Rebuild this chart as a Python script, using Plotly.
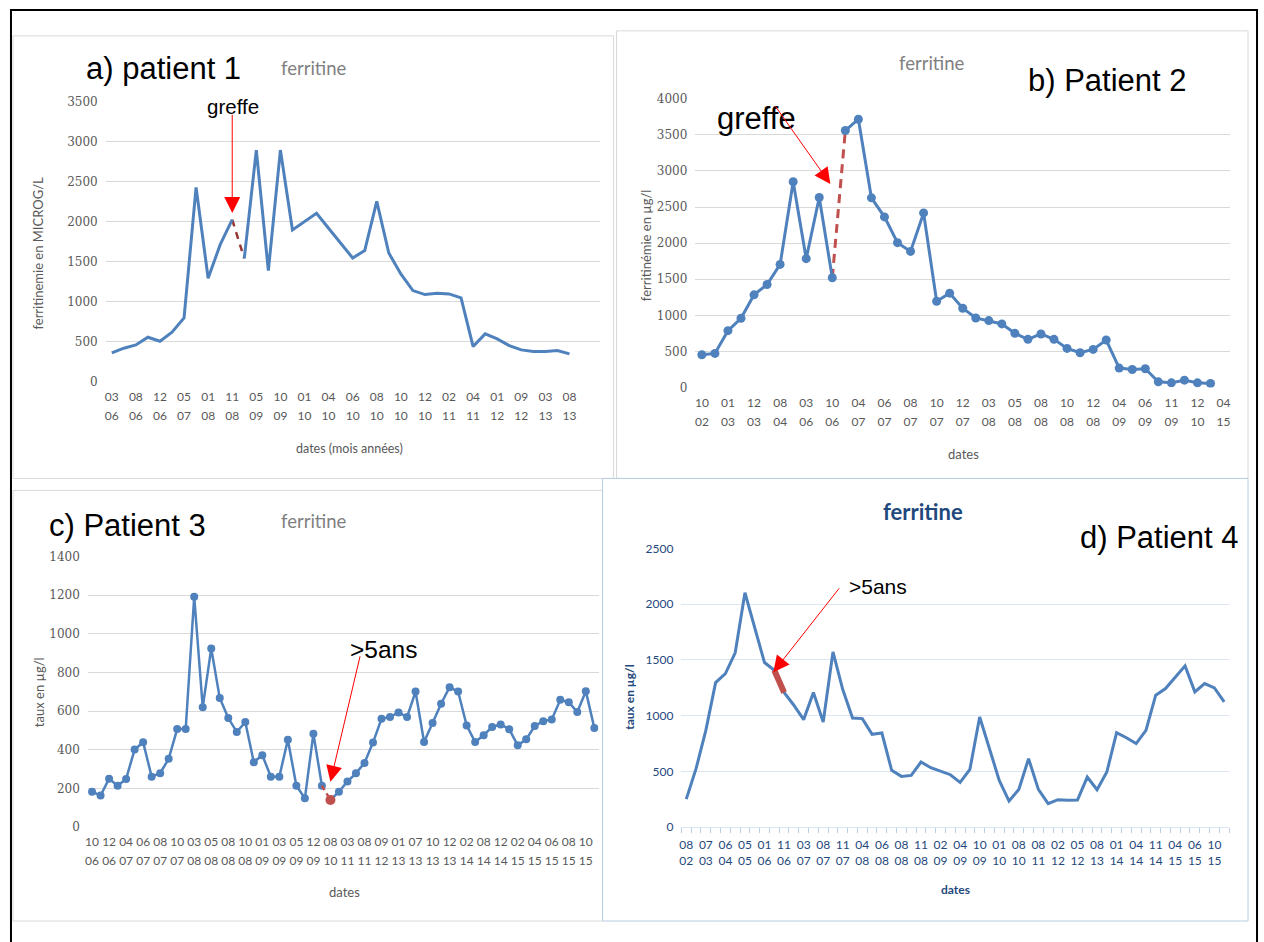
import plotly.graph_objects as go

W, H = 1264, 942

# ---------------- data ----------------
# Panel a) patient 1
a_months = ["03","08","12","05","01","11","05","10","01","04","06","08","10","12","02","04","01","09","03","08"]
a_years  = ["06","06","06","07","08","08","09","09","10","10","10","10","10","10","11","11","12","12","13","13"]
a_values = [358,417,458,554,504,617,796,2429,1292,1712,2025,1540,2896,1388,2896,1896,2004,2104,1917,1730,
            1546,1638,2254,1608,1346,1138,1088,1104,1096,1046,438,596,533,450,396,375,375,388,346]
a_graft = 10

# Panel b) patient 2
b_months = ["10","01","12","08","03","10","04","06","08","10","12","03","05","08","10","12","04","06","11","12","04"]
b_years  = ["02","03","03","04","06","06","07","07","07","07","07","08","08","08","08","08","09","09","09","10","15"]
b_values = [454,473,788,959,1284,1427,1706,2850,1785,2632,1520,3560,3717,2628,2364,2007,1886,2419,1196,1307,
            1099,964,927,881,751,667,742,667,542,482,528,658,269,250,260,79,65,102,65,56]
b_graft = 10

# Panel c) patient 3
c_months = ["10","12","04","06","08","10","03","05","08","10","01","03","05","12","08","03","08","09","01","07",
            "10","12","02","08","12","02","04","06","08","10"]
c_years  = ["06","06","07","07","07","07","08","08","08","08","09","09","09","09","10","11","11","12","13","13",
            "13","13","14","14","14","15","15","15","15","15"]
c_values = [183,163,250,214,249,401,439,261,279,353,507,507,1191,620,924,668,564,492,543,336,
            372,261,261,452,214,149,483,214,140,183,236,278,332,437,560,569,593,569,701,440,
            538,638,723,701,526,440,475,518,531,506,423,454,523,548,557,658,646,595,703,513]
c_mark = 28

# Panel d) patient 4
d_months = ["08","07","06","05","01","11","03","08","11","04","06","08","11","02","04","10","01","08","08","02",
            "05","08","01","04","11","04","06","10"]
d_years  = ["02","03","04","05","06","06","07","07","07","08","08","08","08","09","09","09","10","10","11","12",
            "12","13","14","14","14","15","15","15"]
d_values = [251,524,868,1296,1377,1563,2102,1796,1476,1407,1207,1093,964,1207,943,1572,1234,979,973,832,
            844,509,455,464,584,533,500,470,401,518,988,704,419,234,338,614,338,210,246,240,
            243,449,335,494,847,802,749,868,1183,1243,1341,1446,1213,1287,1249,1123]
d_mark = 9

# ---------------- style ----------------
BLUE = "#4f81bd"
RED = "#c0504d"
GRAY_TXT = "#595959"
GRID = "#d9d9d9"
DBLUE = "#1f497d"
DGRID = "#dce6f2"
TICKFONT = "Lato"
NUMFONT = "DejaVu Serif"
BIG = "Liberation Sans"
VS = 0.985  # vertical layout calibration


def px(x):
    return (x - 2) / W


def py(y):
    return 1 - (8 + (y - 15) / VS) / H


fig = go.Figure()


def split_series(values, cut):
    xs = list(range(cut + 1)) + [None] + list(range(cut + 1, len(values)))
    ys = list(values[:cut + 1]) + [None] + list(values[cut + 1:])
    return xs, ys


# a
xs, ys = split_series(a_values, a_graft)
fig.add_trace(go.Scatter(x=[a_graft, a_graft + 1], y=[a_values[a_graft], a_values[a_graft + 1]],
                         mode="lines", line=dict(color="#953735", width=2.5, dash="7px,6px"),
                         xaxis="x", yaxis="y"))
fig.add_trace(go.Scatter(x=xs, y=ys, mode="lines", line=dict(color=BLUE, width=3),
                         xaxis="x", yaxis="y"))
# b
xs, ys = split_series(b_values, b_graft)
fig.add_trace(go.Scatter(x=[b_graft, b_graft + 1], y=[b_values[b_graft], b_values[b_graft + 1]],
                         mode="lines", line=dict(color=RED, width=3, dash="9px,6px"),
                         xaxis="x2", yaxis="y2"))
fig.add_trace(go.Scatter(x=xs, y=ys, mode="lines+markers", line=dict(color=BLUE, width=3),
                         marker=dict(color=BLUE, size=9), xaxis="x2", yaxis="y2"))
# c
xs, ys = split_series(c_values, c_mark - 1)
fig.add_trace(go.Scatter(x=xs, y=ys, mode="lines+markers", line=dict(color=BLUE, width=2.5),
                         marker=dict(color=BLUE, size=8), xaxis="x3", yaxis="y3"))
fig.add_trace(go.Scatter(x=[c_mark - 1, c_mark], y=[c_values[c_mark - 1], c_values[c_mark]],
                         mode="lines", line=dict(color=RED, width=2.5, dash="5px,4px"),
                         xaxis="x3", yaxis="y3"))
fig.add_trace(go.Scatter(x=[c_mark], y=[c_values[c_mark]], mode="markers",
                         marker=dict(color=RED, size=10), xaxis="x3", yaxis="y3"))
# d
fig.add_trace(go.Scatter(x=list(range(len(d_values))), y=d_values, mode="lines",
                         line=dict(color=BLUE, width=3), xaxis="x4", yaxis="y4"))
fig.add_trace(go.Scatter(x=[d_mark, d_mark + 1], y=[d_values[d_mark], d_values[d_mark + 1]],
                         mode="lines", line=dict(color=RED, width=6), xaxis="x4", yaxis="y4"))

# dummy traces to register overlay (year-row) axes
for xa, ya in (("x5", "y"), ("x6", "y2"), ("x7", "y3"), ("x8", "y4")):
    fig.add_trace(go.Scatter(x=[], y=[], xaxis=xa, yaxis=ya, hoverinfo="skip"))

fig.update_traces(showlegend=False)

# ---------------- axes ----------------
panels = {
    "a": ((105, 600), (381, 101), 41, 3500, 500, a_months, a_years),
    "b": ((696, 1232), (387, 98), 41, 4000, 500, b_months, b_years),
    "c": ((87, 599), (827, 556), 60, 1400, 200, c_months, c_years),
    "d": ((682, 1231), (827, 548), 56, 2500, 500, d_months, d_years),
}
suffix = {"a": "", "b": "2", "c": "3", "d": "4"}
over = {"a": "5", "b": "6", "c": "7", "d": "8"}

layout_axes = {}
for key, (xd, yd, ncat, ymax, dt, months, years) in panels.items():
    s = suffix[key]
    isd = key == "d"
    tcol = DBLUE if isd else GRAY_TXT
    gcol = DGRID if isd else GRID
    tickvals = [2 * i for i in range(len(months))]
    xr = [-0.5, ncat - 0.5]
    xaxis = dict(domain=[px(xd[0]), px(xd[1])], range=xr, anchor="y" + s,
                 tickmode="array", tickvals=tickvals, ticktext=months,
                 showgrid=False, zeroline=False, showline=isd, linecolor=DGRID, linewidth=1,
                 ticks="", tickfont=dict(family=TICKFONT, size=12, color=tcol),
                 ticklabelstandoff=6)
    if isd:
        xaxis["minor"] = dict(tickmode="linear", tick0=-0.5, dtick=1, ticks="outside",
                              ticklen=5, tickcolor="#b9cde5", tickwidth=1, showgrid=False)
    layout_axes["xaxis" + s] = xaxis
    layout_axes["yaxis" + s] = dict(domain=[py(yd[0]), py(yd[1])], range=[0, ymax], anchor="x" + s,
                                    tickmode="linear", tick0=0, dtick=dt,
                                    showgrid=True, gridcolor=gcol, gridwidth=1,
                                    zeroline=False, showline=False, ticks="",
                                    tickfont=dict(family=TICKFONT if isd else NUMFONT, size=12, color=tcol),
                                    ticklabelstandoff=7)
    o = over[key]
    layout_axes["xaxis" + o] = dict(overlaying="x" + s, anchor="y" + s, range=xr,
                                    tickmode="array", tickvals=tickvals, ticktext=years,
                                    showgrid=False, zeroline=False, showline=False, ticks="",
                                    tickfont=dict(family=TICKFONT, size=12, color=tcol),
                                    ticklabelstandoff=25)

fig.update_layout(**layout_axes)

# ---------------- annotations ----------------
ann = []


def text(x, y, t, size, color="black", family=BIG, bold=False, angle=0):
    ann.append(dict(x=px(x), y=py(y), xref="paper", yref="paper", text=("<b>%s</b>" % t) if bold else t,
                    showarrow=False, xanchor="center", yanchor="middle", textangle=angle,
                    font=dict(family=family, size=size, color=color)))


# titles
text(163, 68, "a) patient 1", 31)
text(314, 67, "ferritine", 18.5, "#808080", TICKFONT)
text(933, 62, "ferritine", 18.5, "#808080", TICKFONT)
text(1109, 80, "b) Patient 2", 31)
text(127, 525, "c) Patient 3", 31)
text(314, 521, "ferritine", 18.5, "#808080", TICKFONT)
text(924, 511, "ferritine", 22, DBLUE, TICKFONT, bold=True)
text(1161, 537, "d) Patient 4", 31)
# callout texts
text(233, 106, "greffe", 20.5)
text(757, 118, "greffe", 31)
text(383, 649, ">5ans", 24.5)
text(879, 586, ">5ans", 21)
# axis titles
text(37, 252, "ferritinemie en MICROG/L", 13, GRAY_TXT, TICKFONT, angle=-90)
text(646, 244, "ferritinémie en µg/l", 13, GRAY_TXT, TICKFONT, angle=-90)
text(38, 692, "taux en µg/l", 13, GRAY_TXT, TICKFONT, angle=-90)
text(630, 697, "taux en µg/l", 12, DBLUE, TICKFONT, bold=True, angle=-90)
text(349, 448, "dates (mois années)", 12.5, GRAY_TXT, TICKFONT)
text(965, 454, "dates", 13, GRAY_TXT, TICKFONT)
text(344, 892, "dates", 13, GRAY_TXT, TICKFONT)
text(957, 889, "dates", 12, DBLUE, TICKFONT, bold=True)


# arrows (tip in data coords, tail offset in px)
def arrow(xr, yr, x, y, ax, ay, width=1.0, size=3.2):
    ann.append(dict(x=x, y=y, xref=xr, yref=yr, ax=ax, ay=ay / VS, axref="pixel", ayref="pixel",
                    text="", showarrow=True, arrowhead=2, arrowsize=size, arrowwidth=width,
                    arrowcolor="red"))


arrow("x", "y", a_graft, 2110, 0, -98)
arrow("x2", "y2", 9.85, 2820, -56, -78)
arrow("x3", "y3", c_mark, 235, 30, -125)
arrow("x4", "y4", 8.9, 1390, 67, -84)

fig.update_layout(annotations=ann)

# ---------------- frames ----------------
shapes = []


def rect(x0, y0, x1, y1, color, width=1):
    shapes.append(dict(type="rect", xref="paper", yref="paper", x0=px(x0), x1=px(x1), y0=py(y1), y1=py(y0),
                       line=dict(color=color, width=width), fillcolor="rgba(0,0,0,0)", layer="below"))


rect(12, 35, 614, 478, "#d9d9d9")
rect(617, 30, 1250, 478, "#d9d9d9")
rect(12, 490, 603, 921, "#d9d9d9")
rect(603, 478, 1250, 921, "#b9cde5")
rect(10, 9, 1259, 960, "black", 2)

fig.update_layout(shapes=shapes, width=W, height=H, margin=dict(l=0, r=0, t=0, b=0),
                  paper_bgcolor="white", plot_bgcolor="rgba(0,0,0,0)", showlegend=False)

post = ("var d=document.getElementById('{plot_id}');"
        "d.style.position='fixed';d.style.top='0px';d.style.left='0px';"
        "document.body.style.margin='0';document.body.style.overflow='hidden';"
        "document.documentElement.style.overflow='hidden';")
fig.write_html("out.html", config={"displayModeBar": False}, post_script=post)
